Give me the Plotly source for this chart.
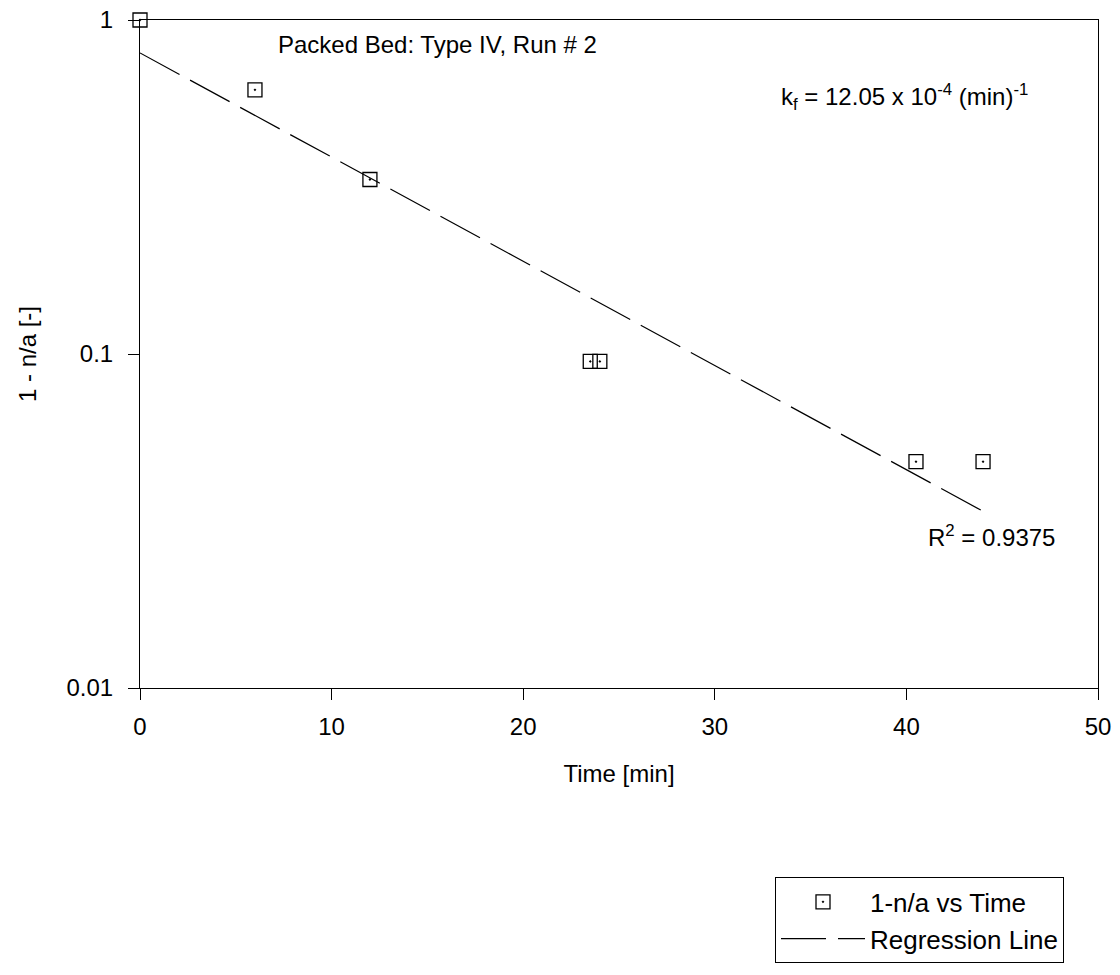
import plotly.graph_objects as go

time_min = [0, 6, 12, 23.5, 24, 40.5, 44]
one_minus_na = [1.0, 0.618, 0.333, 0.095, 0.095, 0.0476, 0.0476]
reg_x = [0, 44]
reg_y = [0.797, 0.0338]
x_ticks = [0, 10, 20, 30, 40, 50]
y_ticks = [0.01, 0.1, 1]
y_ticklabels = ["0.01", "0.1", "1"]

FONT = "Liberation Sans, Arial, sans-serif"
FS = 24

fig = go.Figure()
fig.add_trace(go.Scatter(
    x=time_min, y=one_minus_na, mode="markers", name="1-n/a vs Time",
    marker=dict(symbol="square-open-dot", size=14, color="black", line=dict(width=1.3, color="black")),
    cliponaxis=False,
))
fig.add_trace(go.Scatter(
    x=reg_x, y=reg_y, mode="lines", name="Regression Line",
    line=dict(color="black", width=1.2, dash="45px,12px"),
))

fig.update_layout(
    width=1120, height=975,
    margin=dict(l=140, r=22, t=20, b=285),
    paper_bgcolor="white", plot_bgcolor="white",
    font=dict(family=FONT, size=FS, color="black"),
    xaxis=dict(range=[0, 50], tickvals=x_ticks, ticks="outside", ticklen=11, tickwidth=1,
               tickcolor="black", showline=True, linecolor="black", linewidth=1, mirror=True,
               showgrid=False, zeroline=False, ticklabelstandoff=6, automargin=False,
               title=dict(text="Time [min]", font=dict(size=FS), standoff=26)),
    yaxis=dict(type="log", range=[-2, 0], tickvals=y_ticks, ticktext=y_ticklabels,
               ticks="outside", ticklen=11, tickwidth=1, tickcolor="black",
               showline=True, linecolor="black", linewidth=1, mirror=True,
               showgrid=False, zeroline=False, ticklabelstandoff=10, automargin=False,
               title=dict(text="1 - n/a [-]", font=dict(size=FS), standoff=23)),
    legend=dict(x=(775 - 140) / 958, xanchor="left", y=-(880 - 690) / 670, yanchor="top",
                bordercolor="black", borderwidth=1, bgcolor="white",
                font=dict(size=26), itemwidth=84, tracegroupgap=0),
    showlegend=True,
)

fig.add_annotation(x=(276 - 140) / 958, y=1 - (45 - 20) / 670, xref="paper", yref="paper",
                   text="Packed Bed: Type IV, Run # 2", showarrow=False, xanchor="left", yanchor="middle",
                   font=dict(size=FS))
fig.add_annotation(x=(779 - 140) / 958, y=1 - (97 - 20) / 670, xref="paper", yref="paper",
                   text="k<sub>f</sub> = 12.05 x 10<sup>-4</sup> (min)<sup>-1</sup>", showarrow=False,
                   xanchor="left", yanchor="middle", font=dict(size=FS))
fig.add_annotation(x=(926 - 140) / 958, y=1 - (538 - 20) / 670, xref="paper", yref="paper",
                   text="R<sup>2</sup> = 0.9375", showarrow=False, xanchor="left", yanchor="middle",
                   font=dict(size=FS))

fig.write_html("out.html")
